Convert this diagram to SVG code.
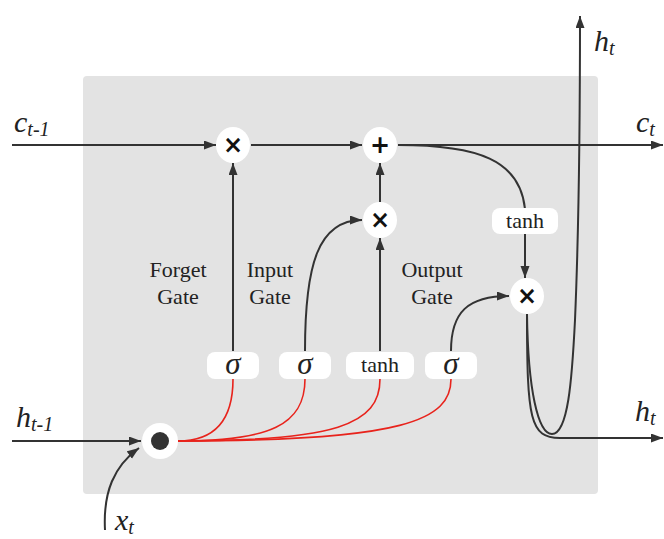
<svg xmlns="http://www.w3.org/2000/svg" width="664" height="539" viewBox="0 0 664 539">
<style>
.ln{fill:none;stroke:#333;stroke-width:2}
.rd{fill:none;stroke:#e8231c;stroke-width:1.6}
.op{fill:#fff}
.sym{font-family:"DejaVu Sans",sans-serif;font-weight:bold;font-size:24px;fill:#111;text-anchor:middle}
.box{fill:#fff}
.lbl{font-family:'Liberation Serif','Times New Roman',serif;font-size:22px;fill:#222;text-anchor:middle}
.var{font-family:'Liberation Serif','Times New Roman',serif;font-style:italic;font-size:30px;fill:#222}
.sub{font-size:20px}
.sig{font-family:'Liberation Serif','Times New Roman',serif;font-style:italic;font-size:31px;fill:#222;text-anchor:middle}
</style>
<defs>
<marker id="ah" markerWidth="13" markerHeight="10" refX="12" refY="4.5" orient="auto" markerUnits="userSpaceOnUse">
<path d="M0,0 L12,4.5 L0,9 z" fill="#333"/>
</marker>
</defs>
<rect id="cell" x="83" y="76" width="515" height="418" rx="4" fill="#e3e3e3"/>
<g id="connectors">
<path class="ln" d="M12,145 L216,145" marker-end="url(#ah)"/>
<path class="ln" d="M251,145 L362,145" marker-end="url(#ah)"/>
<path class="ln" d="M398,145 L663,145" marker-end="url(#ah)"/>
<path class="ln" d="M233,351 L233,163" marker-end="url(#ah)"/>
<path class="ln" d="M380,351 L380,238" marker-end="url(#ah)"/>
<path class="ln" d="M380,202 L380,163" marker-end="url(#ah)"/>
<path class="ln" d="M305,351 C305,265 318,220 362,220" marker-end="url(#ah)"/>
<path class="ln" d="M451,351 C451,312 468,296 509,296" marker-end="url(#ah)"/>
<path class="ln" d="M398,145 C478,145 520,160 525,209"/>
<path class="ln" d="M525,233 L525,278" marker-end="url(#ah)"/>
<path class="ln" d="M527,314 C527,420 530,438 560,438 L663,438" marker-end="url(#ah)"/>
<path class="ln" d="M527,314 C528,390 538,434 552,434 C568,434 572,380 575,320 C578,250 580,150 580,16" marker-end="url(#ah)"/>
<path class="ln" d="M12,441 L141,441" marker-end="url(#ah)"/>
<path class="ln" d="M105,530 C103,492 114,466 139,448" marker-end="url(#ah)"/>
<path class="rd" d="M178,441 C215,441 233,420 233,379"/>
<path class="rd" d="M178,441 C270,441 305,425 305,379"/>
<path class="rd" d="M178,441 C335,441 380,425 380,379"/>
<path class="rd" d="M178,441 C405,441 451,420 451,379"/>
</g>
<g id="forget_mul"><ellipse class="op" cx="233" cy="145" rx="17" ry="18"/><text class="sym" x="233" y="153">×</text></g>
<g id="add"><ellipse class="op" cx="380" cy="145" rx="17" ry="18"/><text class="sym" x="380" y="153">+</text></g>
<g id="input_mul"><ellipse class="op" cx="380" cy="220" rx="17" ry="18"/><text class="sym" x="380" y="228">×</text></g>
<g id="output_mul"><ellipse class="op" cx="527" cy="296" rx="17" ry="18"/><text class="sym" x="527" y="304">×</text></g>
<g id="concat"><circle class="op" cx="160" cy="441" r="18"/><circle cx="160" cy="441" r="9" fill="#333"/></g>
<g id="tanh_c"><rect class="box" x="492" y="208" width="66" height="26" rx="8"/><text class="lbl" x="525" y="228">tanh</text></g>
<g id="sig_f"><rect class="box" x="207" y="352" width="52" height="27" rx="8"/><text class="sig" x="233" y="374">σ</text></g>
<g id="sig_i"><rect class="box" x="279" y="352" width="52" height="27" rx="8"/><text class="sig" x="305" y="374">σ</text></g>
<g id="tanh_g"><rect class="box" x="346" y="352" width="68" height="27" rx="8"/><text class="lbl" x="380" y="372">tanh</text></g>
<g id="sig_o"><rect class="box" x="425" y="352" width="52" height="27" rx="8"/><text class="sig" x="451" y="374">σ</text></g>
<g id="labels">
<text class="lbl" x="178" y="277">Forget</text><text class="lbl" x="178" y="304">Gate</text>
<text class="lbl" x="270" y="277">Input</text><text class="lbl" x="270" y="304">Gate</text>
<text class="lbl" x="432" y="277">Output</text><text class="lbl" x="432" y="304">Gate</text>
<text class="var" x="14" y="132">c<tspan class="sub" dy="4">t-1</tspan></text>
<text class="var" x="636" y="132">c<tspan class="sub" dy="4">t</tspan></text>
<text class="var" x="594" y="51">h<tspan class="sub" dy="4">t</tspan></text>
<text class="var" x="16" y="427">h<tspan class="sub" dy="4">t-1</tspan></text>
<text class="var" x="635" y="421">h<tspan class="sub" dy="4">t</tspan></text>
<text class="var" x="115" y="530">x<tspan class="sub" dy="4">t</tspan></text>
</g>
</svg>
